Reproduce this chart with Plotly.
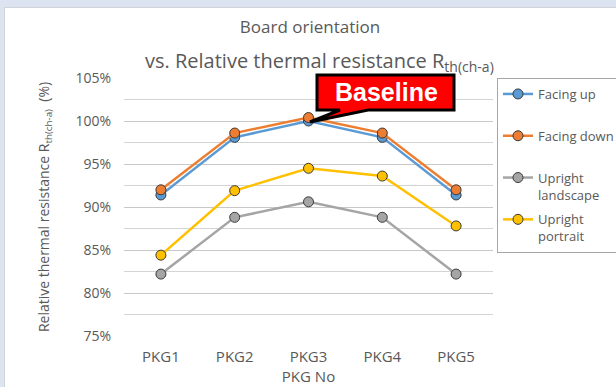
import plotly.graph_objects as go

# Categories and series (relative thermal resistance, %)
packages = ["PKG1", "PKG2", "PKG3", "PKG4", "PKG5"]
facing_up = [91.4, 98.1, 100.0, 98.1, 91.4]
facing_down = [92.0, 98.6, 100.4, 98.6, 92.0]
upright_landscape = [82.2, 88.8, 90.6, 88.8, 82.2]
upright_portrait = [84.4, 91.9, 94.5, 93.6, 87.8]

series_names = ["Facing up<br>\u00a0", "Facing down<br>\u00a0",
                "Upright<br>landscape", "Upright<br>portrait"]
series_values = [facing_up, facing_down, upright_landscape, upright_portrait]
series_colors = ["#5b9bd5", "#ed7d31", "#a5a5a5", "#ffc000"]

W, H = 616, 387
L, R, T, B = 124, 123, 78, 51
PW, PH = W - L - R, H - T - B


def px(x):
    return (x - L) / PW


def py(y):
    return (H - B - y) / PH


TXT = "#595959"
FONT = "Open Sans, Noto Sans, sans-serif"

fig = go.Figure()
for i, (name, vals, col) in enumerate(zip(series_names, series_values, series_colors)):
    fig.add_trace(go.Scatter(
        x=packages, y=vals, name=name, mode="lines+markers",
        legendgroup=f"g{i}",
        line=dict(color=col, width=2.5),
        marker=dict(color=col, size=10, line=dict(color="#3a3a3a", width=1)),
    ))

shapes = [
    # light frame around the chart
    dict(type="rect", xref="paper", yref="paper", x0=px(0), x1=px(W), y0=py(0), y1=py(7),
         fillcolor="#dbe4f0", line=dict(width=0), layer="below"),
    dict(type="rect", xref="paper", yref="paper", x0=px(0), x1=px(4), y0=py(0), y1=py(H),
         fillcolor="#dbe4f0", line=dict(width=0), layer="below"),
    dict(type="line", xref="paper", yref="paper", x0=px(4), x1=px(W), y0=py(7.5), y1=py(7.5),
         line=dict(color="#d0d4da", width=1), layer="below"),
    dict(type="line", xref="paper", yref="paper", x0=px(4.5), x1=px(4.5), y0=py(7.5), y1=py(H),
         line=dict(color="#d0d4da", width=1), layer="below"),
]

# "Baseline" callout box with tail
bx0, bx1, by0, by1 = 317, 454, 75, 110
tail = [(368, 110), (310, 122), (340, 110)]
pts = [(bx0, by0), (bx1, by0), (bx1, by1)] + tail + [(bx0, by1)]
path = "M " + " L ".join(f"{px(a):.5f},{py(b):.5f}" for a, b in pts) + " Z"
shapes.append(dict(type="path", xref="paper", yref="paper", path=path,
                   fillcolor="#ff0000", line=dict(color="#000000", width=3), layer="above"))

annotations = [
    dict(text="vs. Relative thermal resistance R<sub>th(ch-a)</sub>", xref="paper", yref="paper",
         x=px(319), y=py(62), xanchor="center", yanchor="middle", showarrow=False,
         font=dict(family=FONT, size=20, color=TXT)),
    dict(text="<b>Baseline</b>", xref="paper", yref="paper",
         x=px(386), y=py(92), xanchor="center", yanchor="middle", showarrow=False,
         font=dict(family="Liberation Sans, Arial, sans-serif", size=25, color="#ffffff")),
]

fig.update_layout(
    width=W, height=H,
    margin=dict(l=L, r=R, t=T, b=B, autoexpand=False),
    paper_bgcolor="#ffffff", plot_bgcolor="#ffffff",
    font=dict(family=FONT, size=14, color=TXT),
    title=dict(text="Board orientation", x=px(310), xanchor="center", xref="paper",
               y=1 - 27 / H, yanchor="middle", font=dict(family=FONT, size=17, color=TXT)),
    showlegend=True,
    legend=dict(x=px(497), y=1, xanchor="left", yanchor="top", xref="paper",
                bgcolor="#ffffff", bordercolor="#a6a6a6", borderwidth=1,
                font=dict(family=FONT, size=13, color=TXT), valign="top",
                tracegroupgap=5, traceorder="grouped"),
    shapes=shapes, annotations=annotations,
)
fig.update_xaxes(range=[-0.5, 4.5], showgrid=False, zeroline=False, showline=False, ticks="",
                 tickfont=dict(size=15, color=TXT), ticklabelstandoff=10,
                 title=dict(text="PKG No", font=dict(size=15, color=TXT), standoff=2))
fig.update_yaxes(range=[75, 105], dtick=5, ticksuffix="%", showgrid=True,
                 gridcolor="#c8c8c8", gridwidth=1, zeroline=False, showline=False, ticks="",
                 minor=dict(dtick=2.5, showgrid=True, gridcolor="#d4d4d4", gridwidth=1),
                 tickfont=dict(size=14, color=TXT), ticklabelstandoff=12,
                 title=dict(text="Relative thermal resistance R<sub>th(ch-a)</sub>  (%)",
                            font=dict(size=14, color=TXT), standoff=22))

fig.write_html("out.html")
